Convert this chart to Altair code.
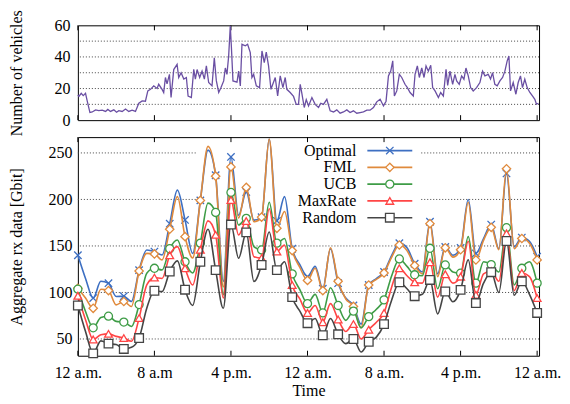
import altair as alt
import pandas as pd

FONT = "Liberation Serif"

# ---------------- data ----------------
hours = [0.0, 0.8, 1.6, 2.4, 3.2, 4.0, 4.8, 5.6, 6.4, 7.2, 8.0, 8.8, 9.6, 10.4, 11.2,
         12.0, 12.8, 13.6, 14.4, 15.2, 16.0, 16.8, 17.6, 18.4, 19.2, 20.0, 20.8, 21.6,
         22.4, 23.2, 24.0, 24.8, 25.6, 26.4, 27.2, 28.0, 28.8, 29.6, 30.4, 31.2, 32.0,
         32.8, 33.6, 34.4, 35.2, 36.0, 36.8, 37.6, 38.4, 39.2, 40.0, 40.8, 41.6, 42.4,
         43.2, 44.0, 44.8, 45.6, 46.4, 47.2, 48.0]

optimal = [140, 115, 94, 112, 110, 95.7, 96, 90.3, 124, 145.7, 144, 140.3, 174, 210, 178,
           142, 199, 253, 226, 112, 245.7, 183, 208, 177.8, 181, 265, 177, 203, 147,
           130, 117, 128, 104, 147, 110, 94, 86, 66, 108, 115, 122, 140, 153, 148, 131,
           122, 176, 120, 149, 140, 148, 200, 142, 158, 173, 147, 228, 149, 159, 155, 138.5]
fml = [104.5, 94, 83, 103.5, 102, 86.7, 90.3, 85, 123, 142, 141.4, 135, 168, 203, 160,
       137, 199, 257, 225, 106, 235, 180, 213, 176, 181, 265, 169, 187, 145,
       127, 113, 126, 102, 148, 112, 93, 85, 62, 108, 114, 121, 138, 151, 145, 129,
       120, 174, 117, 148, 138, 146, 197, 135, 156, 170, 146, 233, 147, 158, 153, 135]
ucb = [103.5, 79.6, 62, 73, 74.5, 68.9, 68.2, 63.5, 87, 120.7, 126, 124.2, 147, 156.4, 133,
       121, 153, 196, 186, 97.5, 207.5, 172.5, 179.6, 149.3, 145.7, 197, 153, 158, 120,
       103, 88, 98, 78, 105, 86, 70, 80, 62, 74, 82, 92, 118, 136, 128, 119,
       118, 147.5, 104, 129.6, 122, 120.7, 160, 110, 133, 130, 122, 169.6, 108, 126, 133, 110]
maxrate = [96.5, 70.7, 49.5, 54.6, 55.5, 52.8, 51, 47.5, 72.5, 108.2, 116, 115, 140, 149.3, 126,
           108, 146, 177, 162, 94, 199.3, 161.8, 176.8, 138.5, 137, 190, 144, 151, 108,
           93, 78, 86, 68, 88, 71, 58, 66, 50, 60, 68, 78, 106, 126, 118, 111,
           110, 132.5, 95, 119.6, 110, 117, 155, 97.5, 120, 123, 112, 163.5, 102, 121, 117, 94]
random_ = [86, 58, 34.5, 48, 45, 44, 39.3, 41, 51, 83, 101.8, 101, 122.5, 134, 103,
           86, 133, 168, 124, 83, 173, 136.8, 164.6, 111.8, 129.6, 165, 124, 133, 95,
           80, 67, 72, 54, 72, 55, 45, 50, 36, 47, 52, 66, 92, 111, 104, 96,
           98, 113.5, 77, 101, 90, 102.8, 135, 88.6, 110, 121.8, 100, 155.3, 97, 112, 98, 78]

veh_t = [0.0, 0.11, 0.35, 0.56, 0.80, 0.98, 1.26, 1.50, 1.85, 2.19, 2.54, 2.89, 3.13, 3.41,
         3.76, 4.04, 4.28, 4.63, 4.98, 5.32, 5.67, 6.02, 6.37, 6.72, 7.06, 7.31, 7.59, 7.93,
         8.28, 8.45, 8.80, 8.97, 9.15, 9.32, 9.57, 9.74, 10.02, 10.37, 10.54, 10.79, 11.07,
         11.34, 11.52, 11.86, 12.11, 12.28, 12.46, 12.73, 12.98, 13.22, 13.43, 13.67, 14.02,
         14.26, 14.47, 14.72, 14.96, 15.24, 15.41, 15.58, 15.76, 15.93, 16.04, 16.21, 16.63,
         16.80, 16.98, 17.15, 17.50, 17.74, 18.02, 18.19, 18.37, 18.65, 18.99, 19.24, 19.48,
         19.69, 19.93, 20.18, 20.39, 20.63, 20.88, 21.15, 21.43, 21.67, 21.84, 22.19, 22.54,
         22.82, 23.06, 23.24, 23.41, 23.66, 23.87, 24.11, 24.46, 24.80, 25.15, 25.39, 25.67,
         26.02, 26.37, 26.72, 27.06, 27.41, 27.76, 28.11, 28.45, 28.80, 29.15, 29.50, 29.85,
         30.20, 30.54, 30.89, 31.24, 31.59, 31.94, 32.21, 32.46, 32.70, 32.91, 33.08, 33.33,
         33.60, 33.85, 34.19, 34.44, 34.72, 35.06, 35.24, 35.48, 35.69, 35.94, 36.18, 36.39,
         36.63, 36.88, 37.08, 37.33, 37.68, 37.92, 38.20, 38.48, 38.65, 38.89, 39.17, 39.41,
         39.59, 39.86, 40.11, 40.35, 40.56, 40.80, 41.05, 41.32, 41.67, 42.02, 42.30, 42.54,
         42.89, 43.13, 43.34, 43.58, 43.83, 44.11, 44.39, 44.63, 44.87, 45.05, 45.22, 45.50,
         45.78, 46.02, 46.26, 46.47, 46.71, 46.96, 47.24, 47.51, 47.76, 47.93, 48.14]
veh_v = [16, 15, 17, 15.5, 17, 12, 4.8, 5.2, 6.5, 6, 6.3, 5.5, 6.8, 5.5,
         6.5, 5, 6, 5.5, 7, 5.5, 6.3, 5.5, 10.7, 12.2, 12, 18.5, 19.5, 21.7,
         20, 22.7, 19.5, 17.5, 27, 23, 29, 14.3, 32, 35.3, 27, 30, 26,
         27, 15.3, 14.3, 32.2, 26, 32, 27, 31, 26, 34.3, 23.8, 21.7,
         39.5, 25, 17.5, 20.6, 24.8, 33, 29, 40.6, 59.5, 47, 24.8, 24,
         31, 21.7, 48, 47, 48, 42.7, 27, 29, 21.7, 20.6, 43.8, 36.4,
         43, 34.3, 19.5, 23, 27, 15.3, 28, 20.6, 27, 19.5, 17.5, 15,
         10, 10, 22.7, 17, 8, 13, 9, 14.3, 10, 8, 10.7, 10,
         13.2, 5.9, 5.2, 6.5, 4.4, 5.2, 6.5, 4.8, 5.9, 4.4, 4.8, 5.2,
         6.3, 6.3, 8, 11.6, 13.2, 9, 12, 28, 31, 37.5, 15.3, 18.5,
         29, 27, 22.7, 20.6, 17.5, 15.3, 29, 34.3, 27, 33, 27, 34.3,
         31, 34.7, 20.6, 18.5, 14.3, 17.5, 15.3, 32.2, 22, 31, 22.7, 29,
         24.8, 22.7, 28, 25.9, 33, 28, 20.6, 18.5, 20.6, 23.8, 31, 28,
         29, 26, 30, 22.7, 21.7, 24.8, 27, 31, 37.5, 40.6, 18.5, 23.8,
         16.4, 23.8, 28, 20.6, 25.9, 20.6, 17.5, 15.3, 13.2, 10.1, 10.7]

tick_hours = [0, 8, 16, 24, 32, 40, 48]
tick_labels = ["12 a.m.", "8 a.m", "4 p.m.", "12 a.m.", "8 a.m.", "4 p.m.", "12 a.m."]
top_y_ticks = [0, 10, 20, 30, 40, 50, 60]
top_grid = [10, 20, 30, 40, 50]
bot_y_ticks = [50, 100, 150, 200, 250]
bot_grid_full = [50, 100, 150]
bot_grid_split = [200, 250]

series_names = ["Optimal", "FML", "UCB", "MaxRate", "Random"]
series_values = [optimal, fml, ucb, maxrate, random_]
colors = ["#3d6fc2", "#e08a3c", "#3e9c46", "#ff4545", "#454545"]
shapes = ["M-1,-1L1,1M-1,1L1,-1", "diamond", "circle", "triangle-up", "square"]
sizes = [55, 70, 65, 60, 75]

# ---------------- layout ----------------
W = 462
H_TOP = 95
H_BOT = 219
XDOM = [0, 48.2]
TITLE_X = -61

label_expr = "".join(f"datum.value == {h} ? '{l}' : " for h, l in zip(tick_hours, tick_labels)) + "''"

xs = alt.Scale(domain=XDOM, nice=False, zero=False)
tick_df = pd.DataFrame({"h": tick_hours})
grid_style = dict(color="#444444", strokeDash=[1, 2], strokeWidth=1)

# ---- top panel ----
veh_df = pd.DataFrame({"t": veh_t, "v": veh_v})
top_ys = alt.Scale(domain=[0, 60], nice=False, zero=False)
top_y_axis = alt.Axis(values=top_y_ticks, grid=False, domain=False, tickSize=0,
                      labelPadding=8, title="Number of vehicles",
                      titleX=TITLE_X, titleY=H_TOP / 2, titleAngle=-90,
                      titleAlign="center", titleBaseline="middle")

top_grid_l = alt.Chart(pd.DataFrame({"g": top_grid})).mark_rule(**grid_style).encode(
    y=alt.Y("g:Q", scale=top_ys, axis=top_y_axis)
)
top_ticks_b = alt.Chart(tick_df).mark_rule(color="black").encode(
    x=alt.X("h:Q", scale=xs, axis=None), y=alt.value(H_TOP), y2=alt.value(H_TOP - 5)
)
top_ticks_t = alt.Chart(tick_df).mark_rule(color="black").encode(
    x=alt.X("h:Q", scale=xs, axis=None), y=alt.value(0), y2=alt.value(5)
)
top_line = alt.Chart(veh_df).mark_line(color="#6a4fa3", strokeWidth=1.3).encode(
    x=alt.X("t:Q", scale=xs, axis=None),
    y=alt.Y("v:Q", scale=top_ys, axis=top_y_axis),
)
top = alt.layer(top_grid_l, top_ticks_b, top_ticks_t, top_line).properties(width=W, height=H_TOP)

# ---- bottom panel ----
bot_ys = alt.Scale(domain=[32, 267], nice=False, zero=False)
x_axis = alt.Axis(values=tick_hours, labelExpr=label_expr, grid=False, domain=False,
                  tickSize=0, labelPadding=9, labelFlush=False, title="Time", titlePadding=2)
y_axis = alt.Axis(values=bot_y_ticks, grid=False, domain=False, tickSize=0, labelPadding=6,
                  title="Aggregate rx data [Gbit]", titleX=TITLE_X, titleY=H_BOT / 2,
                  titleAngle=-90, titleAlign="center", titleBaseline="middle")

layers = []
layers.append(
    alt.Chart(pd.DataFrame({"g": bot_grid_full})).mark_rule(**grid_style).encode(
        y=alt.Y("g:Q", scale=bot_ys, axis=y_axis))
)
layers.append(
    alt.Chart(pd.DataFrame({"g": bot_grid_split})).mark_rule(**grid_style).encode(
        y=alt.Y("g:Q", scale=bot_ys, axis=y_axis), x=alt.value(0), x2=alt.value(120))
)
layers.append(
    alt.Chart(pd.DataFrame({"g": bot_grid_split})).mark_rule(**grid_style).encode(
        y=alt.Y("g:Q", scale=bot_ys, axis=y_axis), x=alt.value(344), x2=alt.value(W))
)
layers.append(alt.Chart(tick_df).mark_rule(color="black").encode(
    x=alt.X("h:Q", scale=xs, axis=x_axis), y=alt.value(H_BOT), y2=alt.value(H_BOT - 5)))
layers.append(alt.Chart(tick_df).mark_rule(color="black").encode(
    x=alt.X("h:Q", scale=xs, axis=x_axis), y=alt.value(0), y2=alt.value(5)))

for name, vals, col, shp, sz in zip(series_names, series_values, colors, shapes, sizes):
    df = pd.DataFrame({"t": hours, "v": vals})
    enc_x = alt.X("t:Q", scale=xs, axis=x_axis)
    enc_y = alt.Y("v:Q", scale=bot_ys, axis=y_axis)
    layers.append(alt.Chart(df).mark_line(color=col, strokeWidth=1.6, interpolate="monotone")
                  .encode(x=enc_x, y=enc_y))
    layers.append(alt.Chart(df.iloc[::2]).mark_point(shape=shp, size=sz, filled=True, fill="white",
                                                     stroke=col, strokeWidth=1.3, opacity=1)
                  .encode(x=enc_x, y=enc_y))

# legend (inside the plot area)
for i, (name, col, shp, sz) in enumerate(zip(series_names, colors, shapes, sizes)):
    yy = 13.5 + 16.8 * i
    one = pd.DataFrame({"name": [name]})
    layers.append(alt.Chart(one).mark_text(align="right", baseline="middle", font=FONT,
                                           fontSize=16, color="black")
                  .encode(x=alt.value(279), y=alt.value(yy), text="name:N"))
    layers.append(alt.Chart(one).mark_rule(color=col, strokeWidth=1.6)
                  .encode(x=alt.value(290), x2=alt.value(335), y=alt.value(yy)))
    layers.append(alt.Chart(one).mark_point(shape=shp, size=sz, filled=True, fill="white",
                                            stroke=col, strokeWidth=1.3, opacity=1)
                  .encode(x=alt.value(312.5), y=alt.value(yy)))

bottom = alt.layer(*layers).properties(width=W, height=H_BOT)

chart = alt.vconcat(top, bottom, spacing=17, bounds="flush").properties(
    padding={"left": 0, "top": 0, "right": 0, "bottom": 0}
).configure_view(stroke="black", strokeWidth=1).configure_axis(
    labelFont=FONT, titleFont=FONT, labelFontSize=16, titleFontSize=16,
    labelColor="black", titleColor="black", titleFontWeight="normal"
)

chart.save("out.html", embed_options={"renderer": "svg", "actions": False})
